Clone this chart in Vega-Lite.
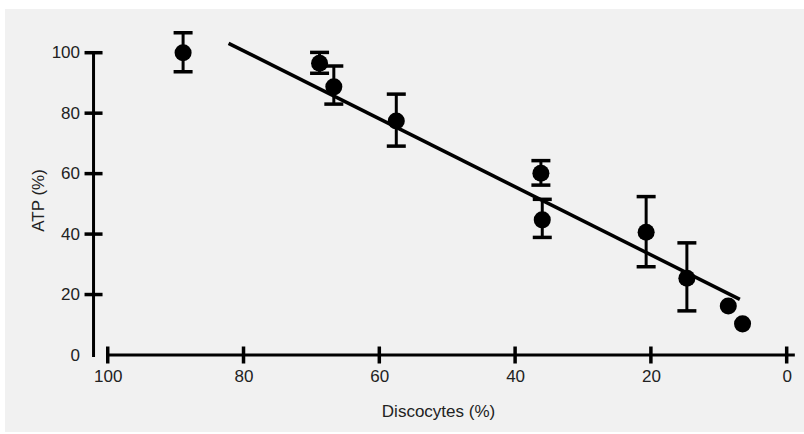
{
  "$schema": "https://vega.github.io/schema/vega-lite/v6.json",
  "width": 799,
  "height": 423,
  "autosize": {"type": "none"},
  "padding": {"left": 5, "top": 9, "right": 0, "bottom": 2},
  "background": "white",
  "config": {
    "view": {"fill": "#f1f1f1", "stroke": null},
    "font": "Liberation Sans",
    "axis": {
      "domain": false, "ticks": false, "grid": false,
      "labelFontSize": 17, "labelColor": "#222", "labelFont": "Liberation Sans",
      "labelFlush": false, "labelOverlap": false,
      "titleFontSize": 17, "titleFontWeight": "normal", "titleColor": "#222", "titleFont": "Liberation Sans"
    }
  },
  "datasets": {
    "points": [
      {"x": 88.9, "y": 100.0, "lo": 93.7, "hi": 106.6},
      {"x": 68.8, "y": 96.5, "lo": 93.2, "hi": 100.1},
      {"x": 66.7, "y": 88.7, "lo": 83.0, "hi": 95.6},
      {"x": 57.5, "y": 77.4, "lo": 69.1, "hi": 86.3},
      {"x": 36.2, "y": 60.1, "lo": 56.2, "hi": 64.3},
      {"x": 36.0, "y": 44.7, "lo": 38.9, "hi": 51.5},
      {"x": 20.7, "y": 40.6, "lo": 29.2, "hi": 52.4},
      {"x": 14.7, "y": 25.4, "lo": 14.6, "hi": 37.1},
      {"x": 8.6, "y": 16.2},
      {"x": 6.5, "y": 10.3}
    ],
    "fit": [
      {"x": 82.2, "y": 103.1},
      {"x": 6.9, "y": 18.4}
    ],
    "xticks": [{"v": 100}, {"v": 80}, {"v": 60}, {"v": 40}, {"v": 20}, {"v": 0}],
    "yticks": [{"v": 20}, {"v": 40}, {"v": 60}, {"v": 80}, {"v": 100}],
    "one": [{}]
  },
  "layer": [
    {
      "data": {"name": "points"},
      "mark": {"type": "circle", "color": "black", "size": 290, "opacity": 1},
      "encoding": {
        "x": {
          "field": "x", "type": "quantitative",
          "scale": {"domain": [115.13, -2.55], "nice": false, "zero": false},
          "axis": {
            "values": [100, 80, 60, 40, 20, 0],
            "format": "d",
            "offset": -77,
            "labelPadding": 13,
            "title": "Discocytes (%)",
            "titleBaseline": "middle", "titleX": 433, "titleY": 56
          }
        },
        "y": {
          "field": "y", "type": "quantitative",
          "scale": {"domain": [-25.47, 114.46], "nice": false, "zero": false},
          "axis": {
            "values": [0, 20, 40, 60, 80, 100],
            "format": "d",
            "offset": -88.5,
            "labelPadding": 14,
            "title": "ATP (%)",
            "titleBaseline": "middle", "titleX": -55.5, "titleY": 191
          }
        }
      }
    },
    {
      "data": {"name": "one"},
      "mark": {"type": "rule", "color": "black", "strokeWidth": 3},
      "encoding": {
        "x": {"datum": 100, "type": "quantitative", "scale": {"domain": [115.13, -2.55], "nice": false, "zero": false}},
        "x2": {"datum": -1.2},
        "y": {"datum": 0, "type": "quantitative", "scale": {"domain": [-25.47, 114.46], "nice": false, "zero": false}}
      }
    },
    {
      "data": {"name": "one"},
      "mark": {"type": "rule", "color": "black", "strokeWidth": 3},
      "encoding": {
        "x": {"datum": 102.09, "type": "quantitative", "scale": {"domain": [115.13, -2.55], "nice": false, "zero": false}},
        "y": {"datum": -0.7, "type": "quantitative", "scale": {"domain": [-25.47, 114.46], "nice": false, "zero": false}},
        "y2": {"datum": 100}
      }
    },
    {
      "data": {"name": "xticks"},
      "mark": {"type": "tick", "orient": "vertical", "color": "black", "size": 17, "thickness": 3.5, "opacity": 1},
      "encoding": {
        "x": {"field": "v", "type": "quantitative", "scale": {"domain": [115.13, -2.55], "nice": false, "zero": false}},
        "y": {"datum": 0, "type": "quantitative", "scale": {"domain": [-25.47, 114.46], "nice": false, "zero": false}}
      }
    },
    {
      "data": {"name": "yticks"},
      "mark": {"type": "tick", "orient": "horizontal", "color": "black", "size": 18, "thickness": 3.5, "opacity": 1},
      "encoding": {
        "x": {"datum": 102.09, "type": "quantitative", "scale": {"domain": [115.13, -2.55], "nice": false, "zero": false}},
        "y": {"field": "v", "type": "quantitative", "scale": {"domain": [-25.47, 114.46], "nice": false, "zero": false}}
      }
    },
    {
      "data": {"name": "fit"},
      "mark": {"type": "line", "color": "black", "strokeWidth": 3.5},
      "encoding": {
        "x": {"field": "x", "type": "quantitative", "scale": {"domain": [115.13, -2.55], "nice": false, "zero": false}},
        "y": {"field": "y", "type": "quantitative", "scale": {"domain": [-25.47, 114.46], "nice": false, "zero": false}}
      }
    },
    {
      "data": {"name": "points"},
      "transform": [{"filter": "isValid(datum.lo)"}],
      "mark": {"type": "rule", "color": "black", "strokeWidth": 3},
      "encoding": {
        "x": {"field": "x", "type": "quantitative", "scale": {"domain": [115.13, -2.55], "nice": false, "zero": false}},
        "y": {"field": "lo", "type": "quantitative", "scale": {"domain": [-25.47, 114.46], "nice": false, "zero": false}},
        "y2": {"field": "hi"}
      }
    },
    {
      "data": {"name": "points"},
      "transform": [{"filter": "isValid(datum.lo)"}],
      "mark": {"type": "tick", "orient": "horizontal", "color": "black", "size": 19, "thickness": 3.5, "opacity": 1},
      "encoding": {
        "x": {"field": "x", "type": "quantitative", "scale": {"domain": [115.13, -2.55], "nice": false, "zero": false}},
        "y": {"field": "lo", "type": "quantitative", "scale": {"domain": [-25.47, 114.46], "nice": false, "zero": false}}
      }
    },
    {
      "data": {"name": "points"},
      "transform": [{"filter": "isValid(datum.hi)"}],
      "mark": {"type": "tick", "orient": "horizontal", "color": "black", "size": 19, "thickness": 3.5, "opacity": 1},
      "encoding": {
        "x": {"field": "x", "type": "quantitative", "scale": {"domain": [115.13, -2.55], "nice": false, "zero": false}},
        "y": {"field": "hi", "type": "quantitative", "scale": {"domain": [-25.47, 114.46], "nice": false, "zero": false}}
      }
    }
  ]
}
